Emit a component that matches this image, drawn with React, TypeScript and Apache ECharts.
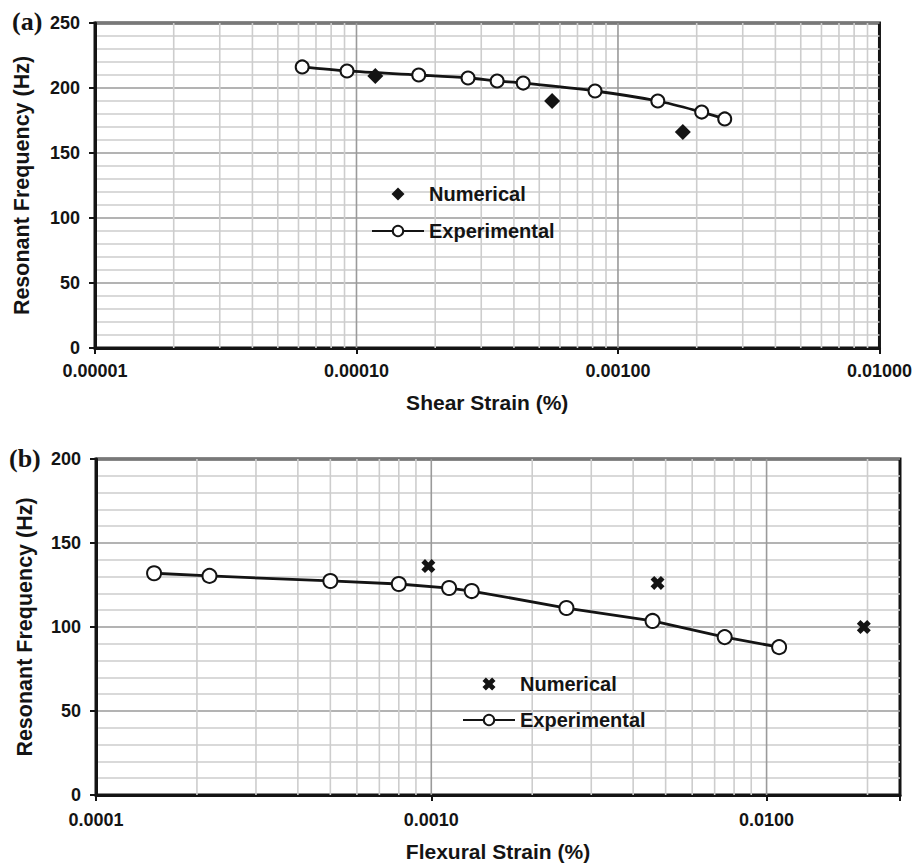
import React, { useEffect, useRef } from "react";
import * as echarts from "echarts";

// ---- Data ----
// Panel (a): shear strain vs resonant frequency
const shearExpStrain = [6.2e-5, 9.2e-5, 1.73e-4, 2.67e-4, 3.45e-4, 4.34e-4, 8.17e-4, 1.42e-3, 2.09e-3, 2.56e-3];
const shearExpFreq = [216.2, 213.1, 210, 207.7, 205.4, 203.8, 197.7, 190, 181.5, 176.2];
const shearNumStrain = [1.18e-4, 5.6e-4, 1.77e-3];
const shearNumFreq = [209.2, 190, 166.2];

// Panel (b): flexural strain vs resonant frequency
const flexExpStrain = [1.49e-4, 2.18e-4, 5.0e-4, 8.0e-4, 1.13e-3, 1.32e-3, 2.53e-3, 4.57e-3, 7.5e-3, 1.09e-2];
const flexExpFreq = [132, 130.4, 127.4, 125.6, 123.2, 121.4, 111.3, 103.6, 94, 88];
const flexNumStrain = [9.8e-4, 4.73e-3, 1.95e-2];
const flexNumFreq = [136.3, 126.2, 100];

// Axis ranges
const shearXRange = [1e-5, 1e-2];
const flexXRange = [1e-4, 0.025];
const shearYMax = 250;
const flexYMax = 200;
const yInterval = 50;

const legendNames = ["Numerical", "Experimental"];

const INK = "#141414";
const FONT = "Liberation Sans";

function logGridValues(min: number, max: number): number[] {
  const out: number[] = [];
  const start = Math.floor(Math.log10(min) + 1e-9);
  const end = Math.ceil(Math.log10(max) - 1e-9);
  for (let e = start; e <= end; e++) {
    for (let m = 1; m <= 9; m++) {
      const v = m * Math.pow(10, e);
      if (v > min * (1 + 1e-9) && v < max * (1 - 1e-9)) out.push(v);
    }
  }
  return out;
}

function isDecade(v: number) {
  const l = Math.log10(v);
  return Math.abs(l - Math.round(l)) < 1e-6;
}

const zip = (xs: number[], ys: number[]) => xs.map((x, i) => [x, ys[i]]);

const diamondPath = "path://M5,0 L10,5 L5,10 L0,5 Z";
const crossPath =
  "path://M0,2.6 L2.6,0 L5,2.4 L7.4,0 L10,2.6 L7.6,5 L10,7.4 L7.4,10 L5,7.6 L2.6,10 L0,7.4 L2.4,5 Z";

function gridSeries(idx: number, values: number[], yMax: number) {
  return {
    type: "custom",
    xAxisIndex: idx,
    yAxisIndex: idx,
    silent: true,
    z: 1,
    data: values.map((v) => [v, 0]),
    renderItem: (params: any, api: any) => {
      const v = api.value(0);
      const p1 = api.coord([v, yMax]);
      const p2 = api.coord([v, 0]);
      const major = isDecade(v);
      return {
        type: "line",
        shape: { x1: p1[0], y1: p1[1], x2: p2[0], y2: p2[1] },
        style: { stroke: major ? "#9a9a9a" : "#cdcdcd", lineWidth: 1.6 },
      };
    },
  };
}

function xAxisCfg(idx: number, range: number[], name: string, digits: number, gap: number, margin: number) {
  return {
    gridIndex: idx,
    type: "log",
    logBase: 10,
    min: range[0],
    max: range[1],
    name,
    nameLocation: "middle",
    nameGap: gap,
    nameTextStyle: { fontSize: 21, fontWeight: "bold", color: INK, fontFamily: FONT },
    axisLine: { show: true, onZero: false, lineStyle: { color: INK, width: 3 } },
    axisTick: { show: true, inside: false, length: 6, lineStyle: { color: INK, width: 2 } },
    axisLabel: {
      fontSize: 18,
      fontWeight: "bold",
      color: INK,
      fontFamily: FONT,
      margin,
      showMaxLabel: true,
      formatter: (v: number) => (isDecade(v) ? v.toFixed(digits) : ""),
    },
    splitLine: { show: false },
    minorTick: { show: false },
    minorSplitLine: { show: false },
  };
}

function yAxisCfg(idx: number, yMax: number, gap: number) {
  return {
    gridIndex: idx,
    type: "value",
    min: 0,
    max: yMax,
    interval: yInterval,
    name: "Resonant Frequency (Hz)",
    nameLocation: "middle",
    nameGap: gap,
    nameTruncate: { maxWidth: 600 },
    nameTextStyle: { fontSize: 21.5, fontWeight: "bold", color: INK, fontFamily: FONT },
    axisLine: { show: true, onZero: false, lineStyle: { color: INK, width: 3 } },
    axisTick: { show: true, inside: false, length: 6, lineStyle: { color: INK, width: 2 } },
    axisLabel: { fontSize: 18, fontWeight: "bold", color: INK, fontFamily: FONT, margin: 15 },
    splitLine: { show: true, lineStyle: { color: "#9a9a9a", width: 1.6 } },
    minorTick: { show: false, splitNumber: 5 },
    minorSplitLine: { show: true, lineStyle: { color: "#cdcdcd", width: 1.6 } },
  };
}

export default function App() {
  const ref = useRef<HTMLDivElement>(null);

  useEffect(() => {
    if (!ref.current) return;
    const chart = echarts.init(ref.current, null, { renderer: "svg" });

    const legendCommon = {
      orient: "vertical",
      padding: 0,
      itemWidth: 52,
      itemHeight: 13,
      selectedMode: false,
      formatter: (n: string) => n.replace(/ \([ab]\)$/, ""),
      textStyle: { fontSize: 20, fontWeight: "bold", color: INK, fontFamily: FONT, lineHeight: 20, padding: [0, 0, 0, 0] },
    };

    const option: any = {
      animation: false,
      backgroundColor: "#ffffff",
      textStyle: { fontFamily: FONT },
      grid: [
        { left: 95, top: 23, width: 787, height: 325, show: true, borderColor: INK, borderWidth: 3, backgroundColor: "transparent", containLabel: false },
        { left: 96, top: 459, width: 804, height: 336, show: true, borderColor: INK, borderWidth: 3, backgroundColor: "transparent", containLabel: false },
      ],
      xAxis: [
        xAxisCfg(0, shearXRange, "Shear Strain (%)", 5, 44, 14),
        xAxisCfg(1, flexXRange, "Flexural Strain (%)", 4, 46, 16),
      ],
      yAxis: [yAxisCfg(0, shearYMax, 62), yAxisCfg(1, flexYMax, 60)],
      legend: [
        {
          ...legendCommon,
          left: 371,
          top: 184,
          itemGap: 17,
          data: [legendNames[0] + " (a)", legendNames[1] + " (a)"],
        },
        {
          ...legendCommon,
          left: 462,
          top: 674,
          itemGap: 16,
          data: [legendNames[0] + " (b)", legendNames[1] + " (b)"],
        },
      ],
      graphic: [
        { type: "text", left: 12, top: 8, style: { text: "(a)", font: 'bold 26px "Liberation Serif"', fill: INK } },
        { type: "text", left: 9, top: 445, style: { text: "(b)", font: 'bold 26px "Liberation Serif"', fill: INK } },
      ],
      series: [
        gridSeries(0, logGridValues(shearXRange[0], shearXRange[1]), shearYMax),
        gridSeries(1, logGridValues(flexXRange[0], flexXRange[1]), flexYMax),
        {
          name: legendNames[1] + " (a)",
          type: "line",
          xAxisIndex: 0,
          yAxisIndex: 0,
          z: 3,
          smooth: 0.3,
          data: zip(shearExpStrain, shearExpFreq),
          symbol: "circle",
          symbolSize: 13,
          lineStyle: { color: INK, width: 2.8 },
          itemStyle: { color: "#ffffff", borderColor: INK, borderWidth: 2, opacity: 1 },
        },
        {
          name: legendNames[0] + " (a)",
          type: "scatter",
          xAxisIndex: 0,
          yAxisIndex: 0,
          z: 4,
          data: zip(shearNumStrain, shearNumFreq),
          symbol: diamondPath,
          symbolSize: 16,
          itemStyle: { color: INK, opacity: 1 },
        },
        {
          name: legendNames[1] + " (b)",
          type: "line",
          xAxisIndex: 1,
          yAxisIndex: 1,
          z: 3,
          data: zip(flexExpStrain, flexExpFreq),
          symbol: "circle",
          symbolSize: 14,
          lineStyle: { color: INK, width: 2.8 },
          itemStyle: { color: "#ffffff", borderColor: INK, borderWidth: 2, opacity: 1 },
        },
        {
          name: legendNames[0] + " (b)",
          type: "scatter",
          xAxisIndex: 1,
          yAxisIndex: 1,
          z: 4,
          data: zip(flexNumStrain, flexNumFreq),
          symbol: crossPath,
          symbolSize: 14,
          itemStyle: { color: INK, opacity: 1 },
        },
      ],
    };

    chart.setOption(option);
    return () => chart.dispose();
  }, []);

  return (
    <div
      ref={ref}
      style={{ position: "fixed", left: 0, top: 0, width: 915, height: 864, background: "#fff" }}
    />
  );
}
